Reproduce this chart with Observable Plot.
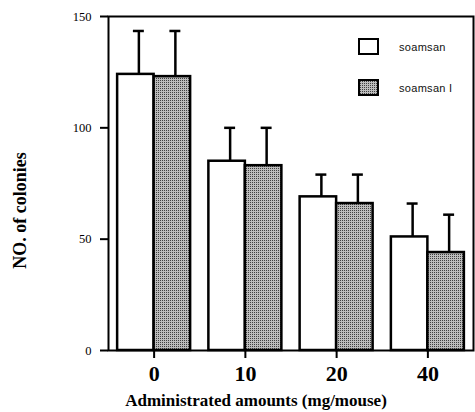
<!DOCTYPE html>
<html>
<head>
<meta charset="utf-8">
<script src="https://cdn.jsdelivr.net/npm/d3@7"></script>
<script src="https://cdn.jsdelivr.net/npm/@observablehq/plot@0.6"></script>
<style>
  html, body { margin: 0; padding: 0; background: white; }
  #wrap { position: relative; width: 475px; height: 412px; }
  #wrap svg text { font-family: "Liberation Serif", serif; }
  #legend { position: absolute; left: 358px; top: 38px; font-family: "Liberation Sans", sans-serif; font-size: 11px; color: #111; letter-spacing: 0.3px; }
  .item { position: absolute; left: 0; display: flex; align-items: center; white-space: nowrap; }
  .item svg { display: block; margin-right: 20px; }
  g[aria-label="ytitle"] text { letter-spacing: 2.6px; }
  g[aria-label="xtitle"] text { letter-spacing: 1.5px; }
</style>
</head>
<body>
<div id="wrap"><div id="legend"></div></div>
<script>
const groups = ["0", "10", "20", "40"];
const seriesNames = ["soamsan", "soamsan I"];
const soamsan = [124, 85, 69, 51];
const soamsanErr = [19.5, 15, 10, 15];
const soamsan1 = [123, 83, 66, 44];
const soamsan1Err = [20.5, 17, 13, 17];
const yTicks = [0, 50, 100, 150];

const rows = [];
groups.forEach((g, i) => {
  rows.push({g: i, s: 0, value: soamsan[i], err: soamsanErr[i]});
  rows.push({g: i, s: 1, value: soamsan1[i], err: soamsan1Err[i]});
});
const bw = 0.4;
const barX1 = d => d.g - bw + d.s * bw;
const barX2 = d => d.g + d.s * bw;
const barXc = d => d.g - bw / 2 + d.s * bw;
const errTop = d => d.value + d.err;
const fills = ["white", "url(#stip)"];
const serif = "Liberation Serif, serif";

const svg = Plot.plot({
  width: 475,
  height: 412,
  marginTop: 16,
  marginRight: 2,
  marginBottom: 62,
  marginLeft: 108,
  style: {fontFamily: serif, background: "white", color: "black"},
  x: {domain: [-0.5, 3.5], axis: null},
  y: {domain: [0, 150], axis: null},
  marks: [
    Plot.rect(rows.filter(d => d.s === 0), {x1: barX1, x2: barX2, y1: 0, y2: "value", fill: fills[0], stroke: "black", strokeWidth: 2.5}),
    Plot.rect(rows.filter(d => d.s === 1), {x1: barX1, x2: barX2, y1: 0, y2: "value", fill: fills[1], stroke: "black", strokeWidth: 2.5}),
    Plot.ruleX(rows, {x: barXc, y1: "value", y2: errTop, stroke: "black", strokeWidth: 2.5, dx: 3}),
    Plot.ruleY(rows, {y: errTop, x1: d => barXc(d) - 0.06, x2: d => barXc(d) + 0.06, stroke: "black", strokeWidth: 2.5, dx: 3}),
    Plot.frame({stroke: "black", strokeWidth: 2}),
    Plot.axisY({ticks: yTicks, tickSize: 8, tickPadding: 9, fontSize: 12.5, fontFamily: serif, label: null, strokeWidth: 2}),
    Plot.axisX({ticks: [0, 1, 2, 3], tickFormat: i => groups[i], tickSize: 8, tickPadding: 7, fontSize: 22, fontFamily: serif, fontWeight: "bold", label: null, strokeWidth: 2}),
    Plot.text(["NO. of colonies"], {frameAnchor: "left", textAnchor: "middle", lineAnchor: "middle", rotate: -90, dx: -88, dy: 27, fontSize: 18, fontFamily: serif, fontWeight: "bold", ariaLabel: "ytitle"}),
    Plot.text(["Administrated amounts (mg/mouse)"], {frameAnchor: "bottom", textAnchor: "middle", lineAnchor: "middle", dx: -35, dy: 50, fontSize: 17, fontFamily: serif, fontWeight: "bold", ariaLabel: "xtitle"})
  ]
});

// stipple pattern for the grey bars
const ns = "http://www.w3.org/2000/svg";
const defs = document.createElementNS(ns, "defs");
const patternSvg = '<rect width="2" height="2" fill="#bcbcbc"/><rect width="1" height="1" fill="#404040"/>';
defs.innerHTML = '<pattern id="stip" width="2" height="2" patternUnits="userSpaceOnUse">' + patternSvg + '</pattern>';
svg.insertBefore(defs, svg.firstChild);
document.getElementById("wrap").prepend(svg);

// legend
const legend = document.getElementById("legend");
const swatchTops = [0, 41];
seriesNames.forEach((name, i) => {
  const item = document.createElement("div");
  item.className = "item";
  item.style.top = swatchTops[i] + "px";
  item.innerHTML = `<svg width="21" height="17"><defs><pattern id="stipL${i}" width="2" height="2" patternUnits="userSpaceOnUse">${patternSvg}</pattern></defs><rect x="1" y="1" width="19" height="15" fill="${i === 0 ? "white" : `url(#stipL${i})`}" stroke="black" stroke-width="2"/></svg><span style="font-family: 'Liberation Sans', sans-serif">${name}</span>`;
  legend.appendChild(item);
});
</script>
</body>
</html>
